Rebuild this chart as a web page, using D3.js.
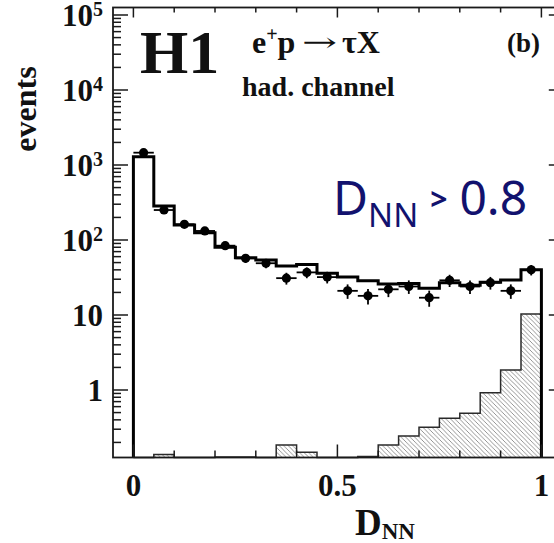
<!DOCTYPE html>
<html>
<head>
<meta charset="utf-8">
<script src="https://cdn.jsdelivr.net/npm/d3@7/dist/d3.min.js"></script>
<style>
  html, body { margin: 0; padding: 0; background: #fff; overflow: hidden; }
  svg { display: block; }
</style>
</head>
<body>
<svg id="chart" width="554" height="543"></svg>
<script>
// Lower edges of the D_NN bins (width 0.05)
const binLow = [0.00, 0.05, 0.10, 0.15, 0.20, 0.25, 0.30, 0.35, 0.40, 0.45,
                0.50, 0.55, 0.60, 0.65, 0.70, 0.75, 0.80, 0.85, 0.90, 0.95];
const binWidth = 0.05;

// Observed events per bin
const dataCounts = [1460, 251, 162, 132, 84, 57, 49, 31, 37, 32,
                    21, 18, 22, 24, 17, 29, 24, 27, 21, 40];

// Total Standard Model expectation
const mcExpect = [1290, 284, 158, 125, 80, 58, 54, 45, 47, 36,
                  32, 28.7, 25.9, 26.4, 22.7, 27, 25, 27.3, 29.3, 40];

// Tau signal contribution (hatched)
const tauSignal = [0, 0.138, 0, 0, 0.128, 0.128, 0, 0.185, 0.148, 0,
                   0, 0.13, 0.185, 0.244, 0.318, 0.42, 0.49, 0.92, 1.85, 10.3];

// Axis ticks
const yTickValues = [1, 10, 100, 1000, 10000, 100000];
const yTickLabels = ["1", "10", "10^2", "10^3", "10^4", "10^5"];
const xMajorTicks = [0, 0.5, 1];
const xMajorLabels = ["0", "0.5", "1"];
const xMinorTicks = [0.1, 0.2, 0.3, 0.4, 0.6, 0.7, 0.8, 0.9];

const svg = d3.select("#chart");
const serif = "'Liberation Serif', 'Times New Roman', serif";

const frame = { left: 113, right: 561.8, top: 7.5, bottom: 457.5 };

const x = d3.scaleLinear().domain([-0.05, 1.05]).range([frame.left, frame.right]);
const y = d3.scaleLog().domain([Math.pow(10, -0.9), Math.pow(10, 5.1)]).range([frame.bottom, frame.top]);
const yMin = y.domain()[0];

// Hatch pattern for the signal histogram
const defs = svg.append("defs");
const pat = defs.append("pattern")
  .attr("id", "hatch")
  .attr("patternUnits", "userSpaceOnUse")
  .attr("width", 4.5).attr("height", 4.5);
pat.append("path")
  .attr("d", "M0,0 L4.5,4.5 M-1,3.5 L1,5.5 M3.5,-1 L5.5,1")
  .attr("stroke", "#8a8a8a").attr("stroke-width", 0.9);

// Step outline points for a histogram
function stepPoints(values) {
  const pts = [[binLow[0], yMin]];
  values.forEach((v, i) => {
    const vv = Math.max(v, yMin);
    pts.push([binLow[i], vv]);
    pts.push([binLow[i] + binWidth, vv]);
  });
  pts.push([binLow[binLow.length - 1] + binWidth, yMin]);
  return pts;
}

const line = d3.line().x(d => x(d[0])).y(d => y(d[1]));

// Signal histogram: hatched fill + outline
const sigPts = stepPoints(tauSignal);
svg.append("path")
  .attr("d", line(sigPts) + "Z")
  .attr("fill", "url(#hatch)")
  .attr("stroke", "none");
svg.append("path")
  .attr("d", line(sigPts))
  .attr("fill", "none")
  .attr("stroke", "#2a2a2a")
  .attr("stroke-width", 1.5);

// Expectation histogram
svg.append("path")
  .attr("d", line(stepPoints(mcExpect)))
  .attr("fill", "none")
  .attr("stroke", "#000")
  .attr("stroke-width", 3)
  .attr("stroke-linejoin", "miter");

// Data points with error bars
const pts = svg.append("g");
dataCounts.forEach((n, i) => {
  const cx = x(binLow[i] + binWidth / 2);
  const cy = y(n);
  const err = Math.sqrt(n);
  pts.append("line")
    .attr("x1", x(binLow[i])).attr("x2", x(binLow[i] + binWidth))
    .attr("y1", cy).attr("y2", cy)
    .attr("stroke", "#000").attr("stroke-width", 1.8);
  pts.append("line")
    .attr("x1", cx).attr("x2", cx)
    .attr("y1", y(n + err)).attr("y2", y(Math.max(n - err, yMin)))
    .attr("stroke", "#000").attr("stroke-width", 1.8);
  pts.append("circle")
    .attr("cx", cx).attr("cy", cy).attr("r", 4.6)
    .attr("fill", "#000");
});

// Frame
svg.append("rect")
  .attr("x", frame.left).attr("y", frame.top)
  .attr("width", frame.right - frame.left)
  .attr("height", frame.bottom - frame.top)
  .attr("fill", "none").attr("stroke", "#1a1a1a").attr("stroke-width", 1.8);

// Y ticks (left and right)
const yAll = y.ticks();
const ticks = svg.append("g").attr("stroke", "#1a1a1a").attr("stroke-width", 1.5);
yAll.forEach(v => {
  const major = yTickValues.includes(v);
  const yy = y(v);
  ticks.append("line")
    .attr("x1", frame.left).attr("x2", frame.left + (major ? 15 : 8))
    .attr("y1", yy).attr("y2", yy);
  ticks.append("line")
    .attr("x1", frame.right).attr("x2", frame.right - (major ? 13 : 7))
    .attr("y1", yy).attr("y2", yy);
});

// X ticks (bottom and top)
xMajorTicks.concat(xMinorTicks).forEach(v => {
  const major = xMajorTicks.includes(v);
  const xx = x(v);
  ticks.append("line")
    .attr("x1", xx).attr("x2", xx)
    .attr("y1", frame.bottom).attr("y2", frame.bottom - (major ? 13 : 7));
  ticks.append("line")
    .attr("x1", xx).attr("x2", xx)
    .attr("y1", frame.top).attr("y2", frame.top + (major ? 10 : 5));
});

// Y tick labels
yTickValues.forEach((v, i) => {
  const parts = yTickLabels[i].split("^");
  const t = svg.append("text")
    .attr("x", 103).attr("y", y(v) + 11)
    .attr("text-anchor", "end")
    .attr("font-family", serif).attr("font-weight", "bold")
    .attr("font-size", 31).attr("fill", "#111");
  t.append("tspan").text(parts[0]);
  if (parts[1]) {
    t.append("tspan").attr("font-size", 20).attr("dy", -10).text(parts[1]);
  }
});

// X tick labels
xMajorTicks.forEach((v, i) => {
  svg.append("text")
    .attr("x", x(v)).attr("y", 496)
    .attr("text-anchor", "middle")
    .attr("font-family", serif).attr("font-weight", "bold")
    .attr("font-size", 31).attr("fill", "#111")
    .text(xMajorLabels[i]);
});

// Axis titles
const xt = svg.append("text")
  .attr("x", 355).attr("y", 535)
  .attr("font-family", serif).attr("font-weight", "bold")
  .attr("font-size", 37).attr("fill", "#111");
xt.append("tspan").text("D");
xt.append("tspan").attr("font-size", 23).attr("dy", 4).text("NN");

svg.append("text")
  .attr("transform", "translate(36,109) rotate(-90)")
  .attr("text-anchor", "middle")
  .attr("font-family", serif).attr("font-weight", "bold")
  .attr("font-size", 32).attr("fill", "#111")
  .text("events");

// Labels inside the frame
svg.append("text")
  .attr("x", 140).attr("y", 73)
  .attr("font-family", serif).attr("font-weight", "bold")
  .attr("font-size", 62).attr("fill", "#111")
  .text("H1");

const proc = svg.append("text")
  .attr("x", 252).attr("y", 53)
  .attr("font-family", serif).attr("font-weight", "bold")
  .attr("font-size", 32).attr("fill", "#111");
proc.append("tspan").text("e");
proc.append("tspan").attr("font-size", 20).attr("dy", -12).text("+");
proc.append("tspan").attr("dy", 12).text("p");

// Long reaction arrow, stretched horizontally to span 35px
const arrow = svg.append("text")
  .attr("x", 0).attr("y", 0)
  .attr("font-family", "'DejaVu Serif', serif")
  .attr("font-size", 26).attr("fill", "#111")
  .text("\u2192");
const arrowBox = arrow.node().getBBox();
const arrowScale = 35 / Math.max(arrowBox.width, 1);
arrow.attr("transform",
  `translate(${302 - arrowBox.x * arrowScale},51) scale(${arrowScale},1)`);

svg.append("text")
  .attr("x", 342).attr("y", 53)
  .attr("font-family", serif).attr("font-weight", "bold")
  .attr("font-size", 32).attr("fill", "#111")
  .text("\u03C4X");

svg.append("text")
  .attr("x", 242).attr("y", 96)
  .attr("font-family", serif).attr("font-weight", "bold")
  .attr("font-size", 28).attr("fill", "#111")
  .text("had. channel");

svg.append("text")
  .attr("x", 540).attr("y", 52)
  .attr("text-anchor", "end")
  .attr("font-family", serif).attr("font-weight", "bold")
  .attr("font-size", 27).attr("fill", "#111")
  .text("(b)");

// Selection cut label
const cut = svg.append("text")
  .attr("x", 333).attr("y", 215)
  .attr("font-family", "'Comic Sans MS', 'Noto Sans', sans-serif")
  .attr("font-size", 48).attr("fill", "#12126e");
cut.append("tspan").text("D");
cut.append("tspan").attr("font-size", 33).attr("dy", 12).text("NN");
cut.append("tspan").attr("font-size", 30).attr("font-weight", "bold").attr("dy", -17).attr("dx", 12).text(">");
cut.append("tspan").attr("dy", 5).attr("dx", 12).text("0.8");
</script>
</body>
</html>
